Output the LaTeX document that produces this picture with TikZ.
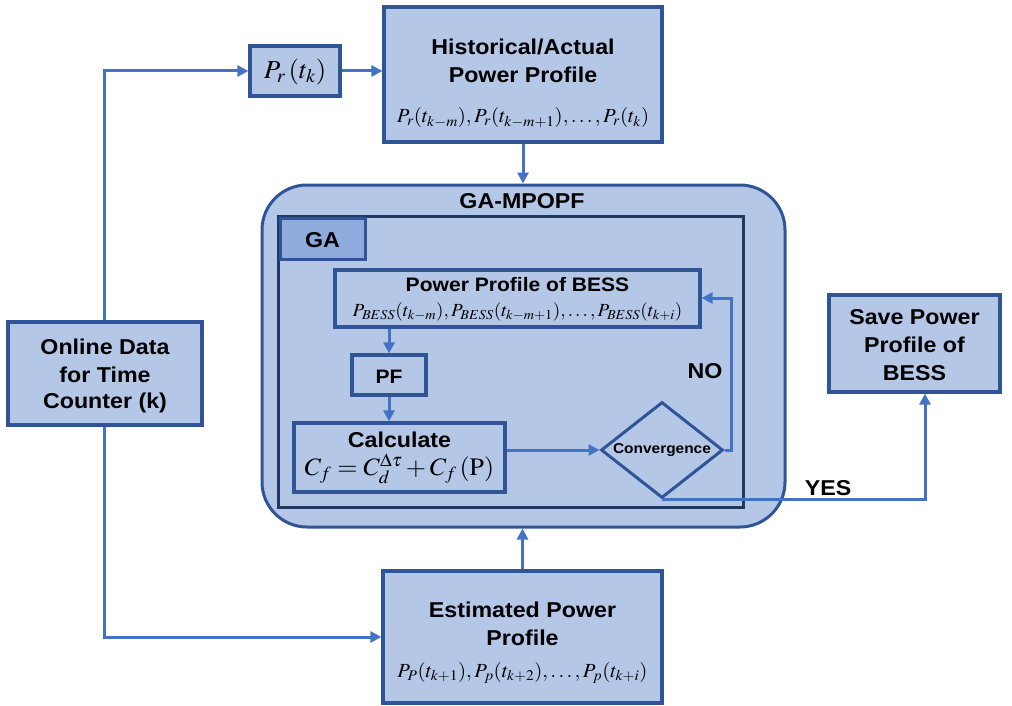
\documentclass[tikz,border=0pt]{standalone}
\usepackage{mathptmx}
\usepackage[no-math]{fontspec}
\setmainfont{Liberation Sans}
\usetikzlibrary{arrows.meta,shapes.geometric}
\definecolor{boxfill}{HTML}{B4C7E7}
\definecolor{tabfill}{HTML}{8FAADC}
\definecolor{boxline}{HTML}{2F5597}
\definecolor{darkline}{HTML}{203864}
\definecolor{arrowc}{HTML}{4472C4}
\newcommand{\hs}[1]{\scalebox{1.08}[1]{#1}}
\newcommand{\ms}[1]{\scalebox{1.04}[1]{#1}}
\tikzset{
  blk/.style={draw=boxline, fill=boxfill, line width=3.2pt, inner sep=0pt},
  lbl/.style={font=\fontsize{21.5}{24}\selectfont\bfseries, inner sep=0pt, text=black},
  mth/.style={font=\fontsize{20}{22}\selectfont, inner sep=0pt},
  conn/.style={draw=arrowc, line width=3pt, -{Triangle[length=11pt,width=11pt]}},
}
\begin{document}
\begin{tikzpicture}[x=1pt,y=-1pt]
\useasboundingbox (0,0) rectangle (1012,706);

% outer GA-MPOPF
\node[draw=boxline, fill=boxfill, line width=3pt, rounded corners=45pt,
      minimum width=523pt, minimum height=342pt] (mpopf) at (523.5,356) {};
\node[lbl] (mpopft) at (522,201) {\hs{GA-MPOPF}};
\node[draw=darkline, line width=3pt, minimum width=465pt, minimum height=291pt] (ga) at (510.5,361.5) {};
\node[draw=boxline, fill=tabfill, line width=3pt, minimum width=85pt, minimum height=41pt] (gatab) at (322.5,238.5) {};
\node[lbl] (gat) at (322.5,240) {\hs{GA}};

% top boxes
\node[blk, minimum width=90pt, minimum height=50pt] (pr) at (295,71) {};
\node[mth, font=\fontsize{26}{28}\selectfont] (prt) at (295,72) {\ms{$P_r\,(t_k)$}};
\node[blk, minimum width=278pt, minimum height=135pt] (hist) at (523,74.5) {};
\node[lbl] (h1) at (523,47) {\hs{Historical/Actual}};
\node[lbl] (h2) at (523,75) {\hs{Power Profile}};
\node[mth] (h3) at (523,118) {\ms{$P_r(t_{k-m}),P_r(t_{k-m+1}),\ldots,P_r(t_k)$}};

% left box
\node[blk, minimum width=194pt, minimum height=103pt] (online) at (105,373.5) {};
\node[lbl] (o1) at (105,347) {\hs{Online Data}};
\node[lbl] (o2) at (105,375) {\hs{for Time}};
\node[lbl] (o3) at (105,403) {\hs{Counter (k)}};

% right box
\node[blk, minimum width=171pt, minimum height=97pt] (save) at (914.5,343.5) {};
\node[lbl] (s1) at (914.5,317) {\hs{Save Power}};
\node[lbl] (s2) at (914.5,345) {\hs{Profile of}};
\node[lbl] (s3) at (914.5,373) {\hs{BESS}};

% bottom box
\node[blk, minimum width=279pt, minimum height=132pt] (est) at (522.5,637) {};
\node[lbl] (e1) at (522.5,610) {\hs{Estimated Power}};
\node[lbl] (e2) at (522.5,638) {\hs{Profile}};
\node[mth] (e3) at (522.5,673) {\ms{$P_P(t_{k+1}),P_p(t_{k+2}),\ldots,P_p(t_{k+i})$}};

% inner GA blocks
\node[blk, minimum width=365pt, minimum height=57pt] (bess) at (517.5,298.5) {};
\node[lbl, font=\fontsize{19.5}{22}\selectfont\bfseries] (b1) at (517.5,285) {\hs{Power Profile of BESS}};
\node[mth, font=\fontsize{18.5}{21}\selectfont] (b2) at (517.5,312) {\ms{$P_{BESS}(t_{k-m}),P_{BESS}(t_{k-m+1}),\ldots,P_{BESS}(t_{k+i})$}};
\node[blk, minimum width=74pt, minimum height=40pt] (pf) at (389,375) {};
\node[lbl, font=\fontsize{19.5}{22}\selectfont\bfseries] (pft) at (389,377) {\hs{PF}};
\node[blk, minimum width=211pt, minimum height=69pt] (calc) at (399.5,457.5) {};
\node[lbl] (c1) at (399.5,440) {\hs{Calculate}};
\node[mth, font=\fontsize{25}{28}\selectfont] (c2) at (399.5,469) {\ms{$C_f=C_d^{\Delta\tau}+C_f\,(\mathrm{P})$}};
\node[diamond, draw=boxline, line width=3pt, aspect=1.27, minimum width=122pt, minimum height=96pt, inner sep=0pt] (conv) at (662,450) {};
\node[lbl, font=\fontsize{14.3}{16}\selectfont\bfseries] (convt) at (662,450) {\hs{Convergence}};

\node[lbl] (no) at (705,371) {\hs{NO}};
\node[lbl] (yes) at (828,488) {\hs{YES}};

% connectors
\coordinate (c0) at (104,72);
\draw[conn] (online.north -| c0) |- (pr.west);
\draw[conn] (pr.east) -- (hist.west |- pr.east);
\draw[conn] (hist.south) -- (mpopf.north -| hist.south);
\draw[conn] (online.south -| c0) |- (est.west);
\draw[conn] (est.north) -- (mpopf.south -| est.north);
\coordinate (pfx) at (389,0);
\draw[conn] (bess.south -| pfx) -- (pf.north);
\draw[conn] (pf.south) -- (calc.north -| pf.south);
\draw[conn] (calc.east |- conv.west) -- (conv.west);
\coordinate (nox) at (731,298);
\draw[conn] (conv.east) -- (conv.east -| nox) -- (nox) -- (bess.east |- nox);
\coordinate (yx) at (925,0);
\draw[conn] (conv.south) -| (save.south -| yx);
\end{tikzpicture}
\end{document}
